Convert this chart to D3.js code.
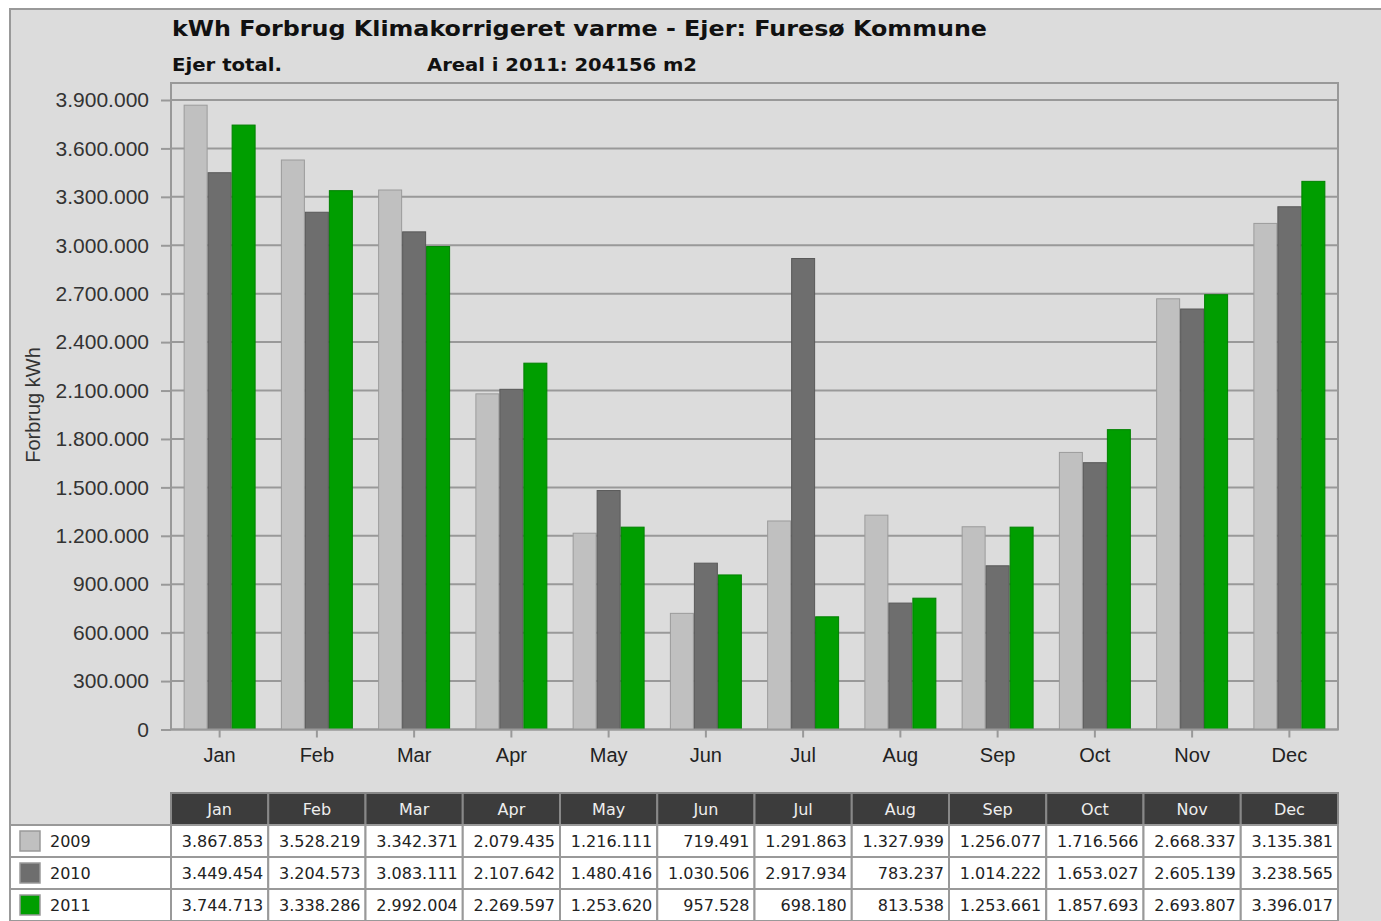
<!DOCTYPE html>
<html>
<head>
<meta charset="utf-8">
<script src="https://cdn.jsdelivr.net/npm/d3@7"></script>
<style>
  body { margin: 0; background: #fff; }
  svg { display: block; }
</style>
</head>
<body>
<div class="chart"></div>
<script>
const months = ["Jan", "Feb", "Mar", "Apr", "May", "Jun", "Jul", "Aug", "Sep", "Oct", "Nov", "Dec"];
const years = ["2009", "2010", "2011"];
const values2009 = [3867853, 3528219, 3342371, 2079435, 1216111, 719491, 1291863, 1327939, 1256077, 1716566, 2668337, 3135381];
const values2010 = [3449454, 3204573, 3083111, 2107642, 1480416, 1030506, 2917934, 783237, 1014222, 1653027, 2605139, 3238565];
const values2011 = [3744713, 3338286, 2992004, 2269597, 1253620, 957528, 698180, 813538, 1253661, 1857693, 2693807, 3396017];
const yTicks = [0, 300000, 600000, 900000, 1200000, 1500000, 1800000, 2100000, 2400000, 2700000, 3000000, 3300000, 3600000, 3900000];
const colors = ["#c0c0c0", "#6e6e6e", "#009e00"];

const series = [values2009, values2010, values2011];
const data = months.map((m, i) => ({ month: m, vals: series.map((s) => s[i]) }));

const width = 1381, height = 921;
const margin = { top: 83, right: 43, bottom: 191.5, left: 171 };

const loc = d3.formatLocale({ decimal: ",", thousands: ".", grouping: [3], currency: ["", ""] });
const fmt = loc.format(",d");

const sans = "Liberation Sans, Arial, sans-serif";
const tahoma = "DejaVu Sans, Verdana, sans-serif";

const svg = d3.select(".chart").append("svg")
  .attr("width", width).attr("height", height)
  .attr("font-family", sans);

// panel
svg.append("rect")
  .attr("x", 10).attr("y", 9).attr("width", width).attr("height", height)
  .attr("fill", "#dcdcdc").attr("stroke", "#999").attr("stroke-width", 2);

const x0 = d3.scaleBand().domain(months)
  .range([margin.left, width - margin.right])
  .paddingInner(0.26).paddingOuter(0.13);
const x1 = d3.scaleBand().domain(years).range([0, x0.bandwidth()]);
const y = d3.scaleLinear().domain([0, 3900000]).range([729.5, 100]);

// titles
svg.append("text").attr("x", 172).attr("y", 36)
  .attr("font-family", tahoma).attr("font-weight", "bold")
  .attr("font-size", 22).attr("textLength", 815).attr("lengthAdjust", "spacingAndGlyphs")
  .attr("fill", "#111")
  .text("kWh Forbrug Klimakorrigeret varme - Ejer: Furesø Kommune");
svg.append("text").attr("x", 172).attr("y", 71)
  .attr("font-family", tahoma).attr("font-weight", "bold")
  .attr("font-size", 18).attr("textLength", 110).attr("lengthAdjust", "spacingAndGlyphs")
  .attr("fill", "#111").text("Ejer total.");
svg.append("text").attr("x", 427).attr("y", 71)
  .attr("font-family", tahoma).attr("font-weight", "bold")
  .attr("font-size", 18).attr("textLength", 270).attr("lengthAdjust", "spacingAndGlyphs")
  .attr("fill", "#111").text("Areal i 2011: 204156 m2");

// gridlines
svg.append("g").selectAll("line").data(yTicks).join("line")
  .attr("x1", margin.left).attr("x2", width - margin.right)
  .attr("y1", (d) => y(d)).attr("y2", (d) => y(d))
  .attr("stroke", "#999").attr("stroke-width", 2);

// bars
const groups = svg.append("g").selectAll("g").data(data).join("g")
  .attr("transform", (d) => `translate(${x0(d.month)},0)`);
groups.selectAll("rect").data((d) => d.vals.map((v, i) => ({ year: years[i], v, i }))).join("rect")
  .attr("x", (d) => x1(d.year) + 0.5)
  .attr("y", (d) => y(d.v))
  .attr("width", x1.bandwidth() - 1)
  .attr("height", (d) => y(0) - y(d.v))
  .attr("fill", (d) => colors[d.i])
  .attr("stroke", (d) => d3.color(colors[d.i]).darker(0.6))
  .attr("stroke-width", 1);

// frame
svg.append("rect")
  .attr("x", margin.left).attr("y", margin.top)
  .attr("width", width - margin.right - margin.left).attr("height", y(0) - margin.top)
  .attr("fill", "none").attr("stroke", "#999").attr("stroke-width", 2);

// y axis
const yAxis = svg.append("g").attr("transform", `translate(${margin.left},0)`)
  .call(d3.axisLeft(y).tickValues(yTicks).tickFormat(fmt).tickSize(10).tickPadding(12))
  .call((g) => g.select(".domain").remove());
yAxis.selectAll(".tick line").attr("stroke", "#999").attr("stroke-width", 2);
yAxis.selectAll(".tick text").attr("font-size", 21).attr("fill", "#333")
  .attr("font-family", sans);

// x axis
const xAxis = svg.append("g").attr("transform", `translate(0,${y(0)})`)
  .call(d3.axisBottom(x0).tickSize(8).tickPadding(10))
  .call((g) => g.select(".domain").remove());
xAxis.selectAll(".tick line").attr("stroke", "#999").attr("stroke-width", 2);
xAxis.selectAll(".tick text").attr("font-size", 20).attr("fill", "#222")
  .attr("font-family", sans);

// y label
svg.append("text")
  .attr("transform", "translate(40,405) rotate(-90)")
  .attr("text-anchor", "middle").attr("font-size", 20).attr("fill", "#333")
  .text("Forbrug kWh");

// data table
const colX = (m) => x0(m) - x0.step() * x0.paddingInner() / 2;
const colW = x0.step();
const rowH = 32, headY = 793;
const table = svg.append("g");

table.selectAll(".head").data(months).join("rect")
  .attr("x", (d) => colX(d)).attr("y", headY)
  .attr("width", colW).attr("height", rowH)
  .attr("fill", "#3c3c3c").attr("stroke", "#888").attr("stroke-width", 2);
table.selectAll(".headtxt").data(months).join("text")
  .attr("x", (d) => colX(d) + colW / 2).attr("y", headY + rowH / 2 + 6)
  .attr("text-anchor", "middle").attr("fill", "#eee").attr("font-size", 16)
  .attr("font-family", tahoma)
  .text((d) => d);

years.forEach((yr, r) => {
  const ry = headY + rowH * (r + 1);
  table.append("rect")
    .attr("x", 10).attr("y", ry).attr("width", colX(months[0]) - 10).attr("height", rowH)
    .attr("fill", "#fff").attr("stroke", "#999").attr("stroke-width", 2);
  table.append("rect")
    .attr("x", 20).attr("y", ry + 6).attr("width", 20).attr("height", 20)
    .attr("fill", colors[r]).attr("stroke", "#999").attr("stroke-width", 1.5);
  table.append("text")
    .attr("x", 50).attr("y", ry + rowH / 2 + 6)
    .attr("font-size", 16).attr("fill", "#222").attr("font-family", tahoma).text(yr);
  table.append("g").selectAll("rect").data(series[r]).join("rect")
    .attr("x", (d, i) => colX(months[i])).attr("y", ry)
    .attr("width", colW).attr("height", rowH)
    .attr("fill", "#fff").attr("stroke", "#999").attr("stroke-width", 2);
  table.append("g").selectAll("text").data(series[r]).join("text")
    .attr("x", (d, i) => colX(months[i]) + colW - 5).attr("y", ry + rowH / 2 + 6)
    .attr("text-anchor", "end").attr("font-size", 16).attr("fill", "#222")
    .attr("font-family", tahoma)
    .text((d) => fmt(d));
});
</script>
</body>
</html>
